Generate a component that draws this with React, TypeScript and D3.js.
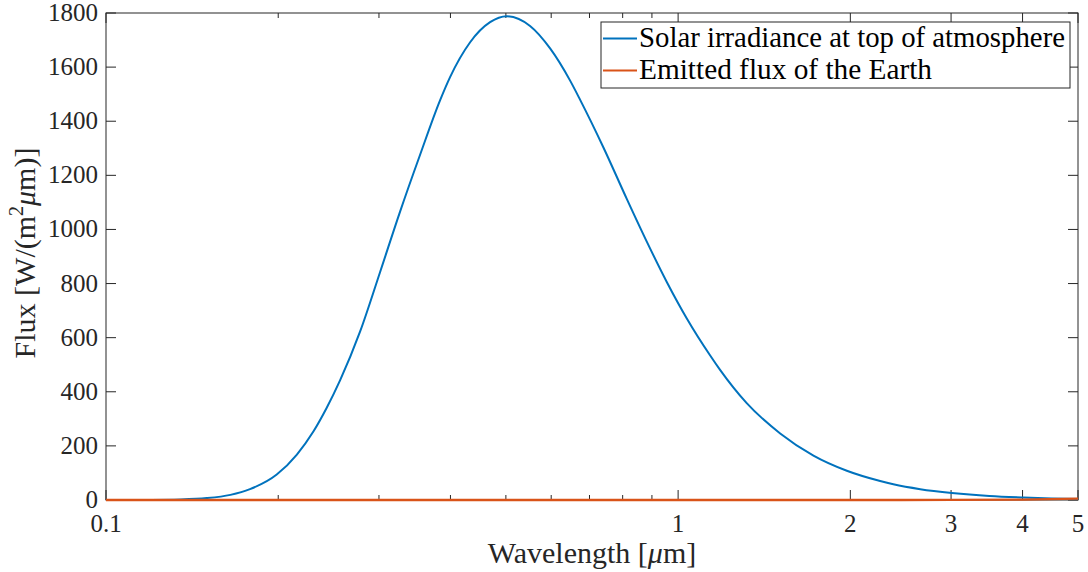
import React from 'react';
import * as d3 from 'd3';

const wavelengths = [0.1, 0.12, 0.135, 0.15, 0.165, 0.1785, 0.1988, 0.2156, 0.2304, 0.243, 0.2565, 0.278, 0.3013, 0.3266, 0.354, 0.3836, 0.3994, 0.433, 0.4692, 0.5016, 0.5511, 0.5974, 0.6475, 0.6742, 0.7404, 0.8133, 0.8815, 0.9554, 1.0356, 1.137, 1.184, 1.318, 1.508, 1.724, 1.972, 2.255, 2.378, 2.65, 3.01, 3.5, 4.015, 4.5, 5];
const solarFlux = [0, 0.4, 2, 7, 19, 40, 94, 168, 253, 340, 442, 622, 842, 1066, 1276, 1477, 1563, 1692, 1766, 1788, 1752, 1669, 1550, 1479, 1303, 1113, 955, 806, 671, 535, 481, 358, 246, 164, 108, 70, 58, 40, 26, 15, 9.3, 6, 4];

// Earth's emitted flux (essentially zero on this range)
const earthWavelengths = [0.1, 0.5, 1, 2, 3, 4, 5];
const earthFlux = [0, 0, 0, 0, 0.1, 1.4, 5];

const xMajorTicks = [0.1, 1, 2, 3, 4, 5];
const xMinorTicks = [0.2, 0.3, 0.4, 0.5, 0.6, 0.7, 0.8, 0.9];
const yTicks = [0, 200, 400, 600, 800, 1000, 1200, 1400, 1600, 1800];
const seriesNames = ['Solar irradiance at top of atmosphere', 'Emitted flux of the Earth'];
const seriesColors = ['#0072BD', '#D95319'];

export default function App() {
  const W = 1088, H = 572;
  const left = 106, right = 1078, top = 13, bottom = 500;
  const x = d3.scaleLog().domain([0.1, 5]).range([left, right]);
  const y = d3.scaleLinear().domain([0, 1800]).range([bottom, top]);
  const line = d3.line<[number, number]>().x(d => x(d[0])).y(d => y(d[1])).curve(d3.curveMonotoneX);
  const solar: [number, number][] = wavelengths.map((w, i) => [w, solarFlux[i]]);
  const earth: [number, number][] = earthWavelengths.map((w, i) => [w, earthFlux[i]]);
  const axisColor = '#262626';
  const font = '"Liberation Serif", "Times New Roman", serif';
  const fs = 25;
  const fmt = (v: number) => (v === 0.1 ? '0.1' : String(v));

  return (
    <svg width={W} height={H} style={{ position: 'absolute', left: 0, top: 0, background: '#fff' }} fontFamily={font}>
      <rect x={0} y={0} width={W} height={H} fill="#fff" />
      <defs>
        <clipPath id="plotclip">
          <rect x={left} y={top - 2} width={right - left} height={bottom - top + 4} />
        </clipPath>
      </defs>
      {/* box */}
      <rect x={left} y={top} width={right - left} height={bottom - top} fill="none" stroke={axisColor} strokeWidth={1} />
      {/* x ticks */}
      {xMajorTicks.map(t => (
        <g key={'xM' + t}>
          <line x1={x(t)} x2={x(t)} y1={bottom} y2={bottom - 10} stroke={axisColor} />
          <line x1={x(t)} x2={x(t)} y1={top} y2={top + 10} stroke={axisColor} />
          <text x={x(t)} y={532} textAnchor="middle" fontSize={fs} fill={axisColor}>{fmt(t)}</text>
        </g>
      ))}
      {xMinorTicks.map(t => (
        <g key={'xm' + t}>
          <line x1={x(t)} x2={x(t)} y1={bottom} y2={bottom - 5} stroke={axisColor} />
          <line x1={x(t)} x2={x(t)} y1={top} y2={top + 5} stroke={axisColor} />
        </g>
      ))}
      {/* y ticks */}
      {yTicks.map(t => (
        <g key={'y' + t}>
          <line x1={left} x2={left + 10} y1={y(t)} y2={y(t)} stroke={axisColor} />
          <line x1={right} x2={right - 10} y1={y(t)} y2={y(t)} stroke={axisColor} />
          <text x={98} y={y(t) + 8} textAnchor="end" fontSize={fs} fill={axisColor}>{t}</text>
        </g>
      ))}
      {/* data lines, drawn over the axes */}
      <g clipPath="url(#plotclip)">
        <path d={line(solar) || ''} fill="none" stroke={seriesColors[0]} strokeWidth={2} />
        <path d={line(earth) || ''} fill="none" stroke={seriesColors[1]} strokeWidth={2.3} />
      </g>
      {/* axis titles */}
      <text x={592} y={563} textAnchor="middle" fontSize={30} fill={axisColor}>
        Wavelength [<tspan fontStyle="italic">μ</tspan>m]
      </text>
      <text transform={`translate(35,253) rotate(-90)`} textAnchor="middle" fontSize={30} fill={axisColor}>
        Flux [W/(m<tspan fontSize={20} dy={-12}>2</tspan><tspan dy={12} fontStyle="italic">μ</tspan>m)]
      </text>
      {/* legend */}
      <rect x={601} y={22} width={469} height={66} fill="#fff" stroke={axisColor} strokeWidth={1} />
      {seriesNames.map((n, i) => (
        <g key={n}>
          <line x1={603} x2={637} y1={38.5 + i * 32} y2={38.5 + i * 32} stroke={seriesColors[i]} strokeWidth={2} />
          <text x={639} y={46.5 + i * 32} fontSize={29} fill="#000"
            textLength={i === 0 ? 426 : 293} lengthAdjust="spacingAndGlyphs">{n}</text>
        </g>
      ))}
    </svg>
  );
}
